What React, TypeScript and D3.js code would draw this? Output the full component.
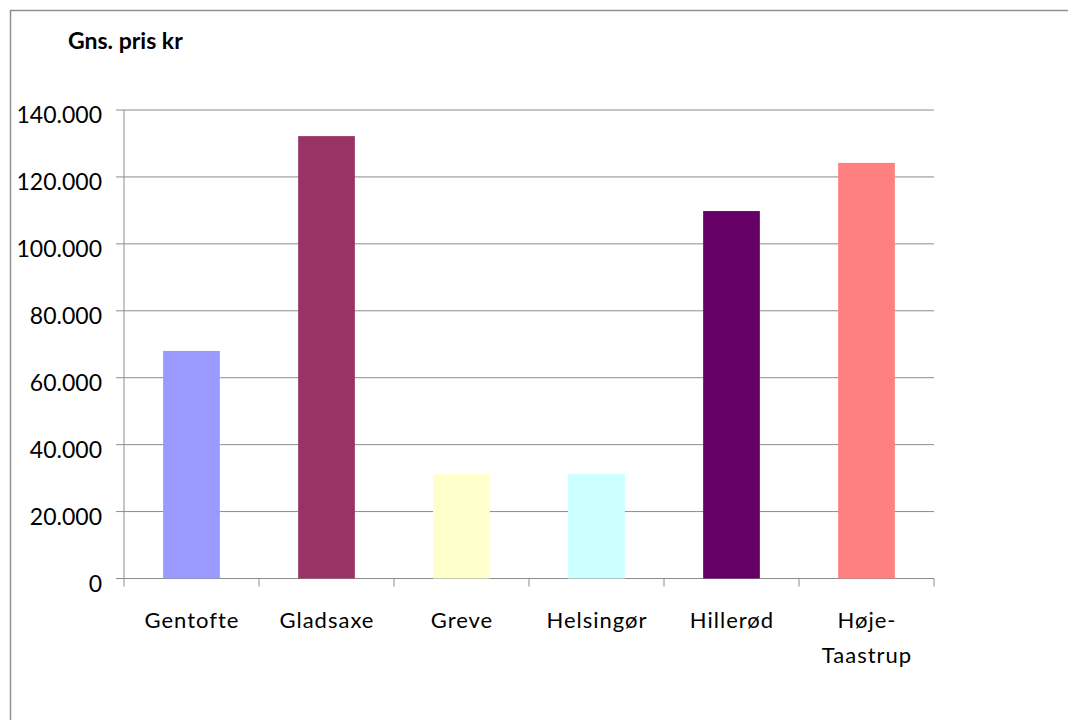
import React from "react";
import * as d3 from "d3";

const categories = ["Gentofte", "Gladsaxe", "Greve", "Helsingør", "Hillerød", "Høje-Taastrup"];
const labelLines = [["Gentofte"], ["Gladsaxe"], ["Greve"], ["Helsingør"], ["Hillerød"], ["Høje-", "Taastrup"]];
const values = [68000, 132200, 31200, 31200, 109800, 124200];
const colors = ["#9999FF", "#993366", "#FFFFCC", "#CCFFFF", "#660066", "#FF8080"];
const yTicks = [0, 20000, 40000, 60000, 80000, 100000, 120000, 140000];
const title = "Gns. pris kr";

const W = 1068;
const H = 720;
const plotLeft = 124;
const plotRight = 934;
const plotTop = 110;
const plotBottom = 578.5;

const locale = d3.formatLocale({ thousands: ".", decimal: ",", grouping: [3], currency: ["", ""] });
const fmt = locale.format(",");

export default function App() {
  const x = d3.scaleBand<string>().domain(categories).range([plotLeft, plotRight]).padding(0);
  const y = d3.scaleLinear().domain([0, 140000]).range([plotBottom, plotTop]);
  const bw = x.bandwidth();
  const barW = bw * 0.42;
  const gridColor = "#8c8c8c";
  const font = "Lato, 'Liberation Sans', Arial, sans-serif";
  const boundaries = [...categories.map((c) => x(c) as number), plotRight];

  return (
    <svg
      width={W}
      height={H}
      style={{ position: "absolute", left: 0, top: 0, background: "#fff" }}
    >
      <rect x={10.5} y={10.5} width={W + 20} height={H + 20} fill="#fff" stroke="#8f8f8f" strokeWidth={1.5} />
      <text x={68} y={49} fontFamily={font} fontWeight="bold" fontSize={23} fill="#000">
        {title}
      </text>
      {yTicks.map((t) => (
        <g key={t}>
          <line x1={plotLeft - 8} x2={plotRight} y1={y(t)} y2={y(t)} stroke={gridColor} strokeWidth={1} />
          <text
            x={102}
            y={y(t) + 13}
            textAnchor="end"
            fontFamily={font}
            fontSize={23}
            fill="#000"
          >
            {fmt(t)}
          </text>
        </g>
      ))}
      <line x1={plotLeft} x2={plotLeft} y1={plotTop} y2={plotBottom} stroke={gridColor} strokeWidth={1} />
      {boundaries.map((b, i) => (
        <line key={i} x1={b} x2={b} y1={plotBottom} y2={plotBottom + 8} stroke={gridColor} strokeWidth={1} />
      ))}
      {categories.map((c, i) => (
        <rect
          key={c}
          x={(x(c) as number) + (bw - barW) / 2}
          y={y(values[i])}
          width={barW}
          height={plotBottom - y(values[i])}
          fill={colors[i]}
        />
      ))}
      {categories.map((c, i) => (
        <text
          key={c}
          x={(x(c) as number) + bw / 2}
          y={628}
          textAnchor="middle"
          fontFamily={font}
          fontSize={22}
          letterSpacing={1}
          fill="#000"
        >
          {labelLines[i].map((ln, j) => (
            <tspan key={j} x={(x(c) as number) + bw / 2 + 0.5} dy={j === 0 ? 0 : 35}>
              {ln}
            </tspan>
          ))}
        </text>
      ))}
    </svg>
  );
}
